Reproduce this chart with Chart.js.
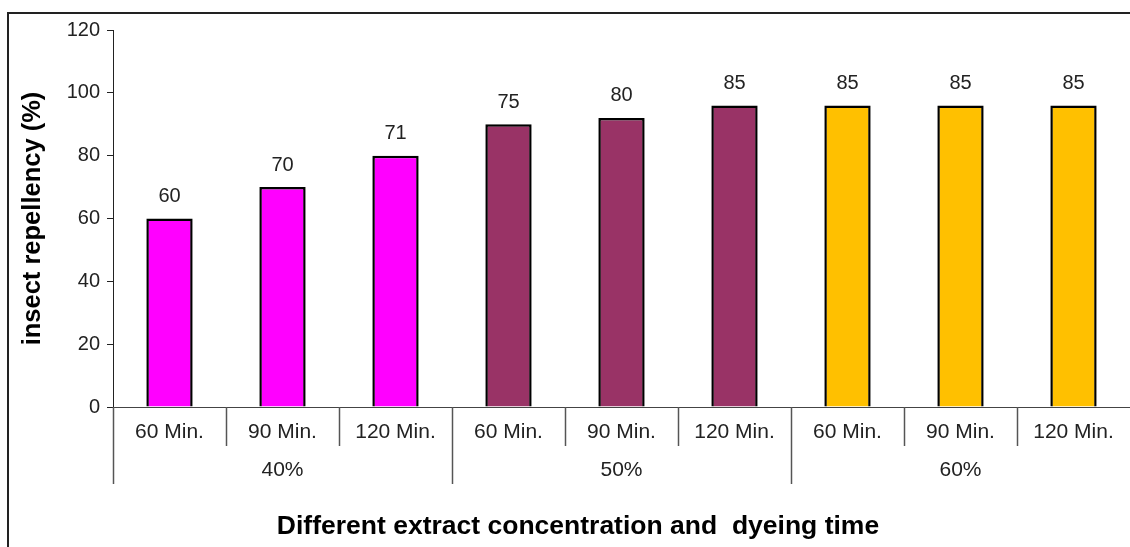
<!DOCTYPE html>
<html><head><meta charset="utf-8">
<script src="https://cdn.jsdelivr.net/npm/chart.js@4.4.0/dist/chart.umd.min.js"></script>
<style>
html,body{margin:0;padding:0;background:#fff;overflow:hidden;}
#wrap{position:relative;width:1130px;height:547px;overflow:hidden;}
#frame{position:absolute;left:7px;top:12px;width:1200px;height:600px;border-left:2px solid #222;border-top:2px solid #222;box-sizing:border-box;}
canvas{position:absolute;left:0;top:0;}
</style></head><body>
<div id="wrap"><div id="frame"></div><canvas id="c" width="1130" height="547"></canvas></div>
<script>
const categories = ['60 Min.','90 Min.','120 Min.','60 Min.','90 Min.','120 Min.','60 Min.','90 Min.','120 Min.'];
const groups = ['40%','50%','60%'];
const barValues = [60,70,80,90,92,96,96,96,96];
const valueLabels = ['60','70','71','75','80','85','85','85','85'];
const groupColors = ['#FF00FF','#993366','#FFC000'];
const yTitle = 'insect repellency (%)';
const xTitle = 'Different extract concentration and  dyeing time';

const FONT = "'Liberation Sans', Arial, sans-serif";
Chart.defaults.font.family = FONT;

const barColors = categories.map((c,i)=>groupColors[Math.floor(i/3)]);

const labelsPlugin = {
  id:'customLabels',
  afterDatasetsDraw(chart){
    const ctx = chart.ctx;
    const meta = chart.getDatasetMeta(0);
    ctx.save();
    ctx.fillStyle = '#222';
    ctx.font = '20px ' + FONT;
    ctx.textAlign = 'center';
    ctx.textBaseline = 'middle';
    meta.data.forEach((bar,i)=>{
      ctx.fillText(valueLabels[i], bar.x, bar.y - 22);
    });
    ctx.restore();
  },
  afterDraw(chart){
    const ctx = chart.ctx;
    const xs = chart.scales.x;
    const y0 = xs.top;
    const px = i => xs.getPixelForValue(i);
    ctx.save();
    ctx.strokeStyle = '#555';
    ctx.lineWidth = 1.5;
    for(let i=0;i<categories.length;i++){
      const bx = i===0 ? xs.left : (px(i-1)+px(i))/2;
      const len = (i%3===0) ? 77 : 39;
      ctx.beginPath();
      ctx.moveTo(Math.round(bx)+0.5, y0);
      ctx.lineTo(Math.round(bx)+0.5, y0+len);
      ctx.stroke();
    }
    ctx.fillStyle = '#222';
    ctx.font = '21px ' + FONT;
    ctx.textAlign = 'center';
    ctx.textBaseline = 'middle';
    categories.forEach((c,i)=>ctx.fillText(c, px(i), y0+25));
    groups.forEach((g,k)=>{
      const cx = (px(k*3)+px(k*3+2))/2;
      ctx.fillText(g, cx, y0+63);
    });
    ctx.fillStyle = '#000';
    ctx.font = 'bold 26.5px ' + FONT;
    ctx.fillText(xTitle, 578, y0+120);
    ctx.restore();
  }
};

new Chart(document.getElementById('c'), {
  type:'bar',
  data:{
    labels: categories,
    datasets:[{
      data: barValues,
      backgroundColor: barColors,
      borderColor:'#000',
      borderWidth:2.5,
      borderSkipped:'bottom',
      barPercentage:0.41,
      categoryPercentage:1.0
    }]
  },
  options:{
    responsive:false,
    animation:false,
    devicePixelRatio:1,
    layout:{padding:{top:30,right:0,bottom:0,left:0}},
    plugins:{legend:{display:false},tooltip:{enabled:false}},
    scales:{
      x:{
        grid:{display:false},
        border:{color:'#444',width:1},
        ticks:{display:false},
        afterFit:s=>{s.height=140;}
      },
      y:{
        min:0,max:120,
        ticks:{stepSize:20,color:'#222',font:{size:20},padding:7},
        grid:{drawOnChartArea:false,tickLength:6,color:'#222'},
        border:{color:'#222',width:1},
        title:{display:true,text:yTitle,color:'#000',font:{size:25.5,weight:'bold'},padding:{top:18,bottom:0}},
        afterFit:s=>{s.width=113;}
      }
    }
  },
  plugins:[labelsPlugin]
});
</script>
</body></html>
